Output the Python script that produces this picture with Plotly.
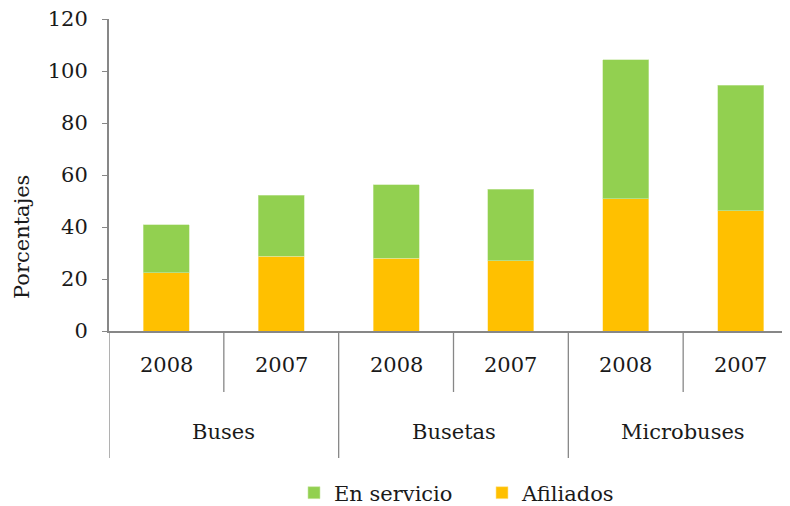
import plotly.graph_objects as go

# data
grupos = ['Buses', 'Busetas', 'Microbuses']
anios = ['2008', '2007', '2008', '2007', '2008', '2007']
afiliados = [22.5, 28.7, 27.9, 27.1, 50.9, 46.2]
en_servicio = [18.4, 23.5, 28.3, 27.5, 53.4, 48.3]

pos = list(range(len(anios)))
fuente = 'DejaVu Serif'
tam = 21
gris = '#878787'
negro = '#1a1a1a'
izq = 101
ancho_plot = 790 - izq
alto_plot = 506 - 11 - 183

def py(px_abajo):
    # pixels below the x axis -> paper fraction
    return -px_abajo / alto_plot

fig = go.Figure()
fig.add_trace(go.Bar(x=pos, y=afiliados, name='Afiliados',
                     marker=dict(color='#FFC000', line=dict(color='#FFE699', width=0.6))))
fig.add_trace(go.Bar(x=pos, y=en_servicio, name='En servicio',
                     marker=dict(color='#92D050', line=dict(color='#C9E8A8', width=0.6))))

# separators below the axis: short between years, long between groups
shapes = []
for k in range(len(anios) + 1):
    largo = py(127) if k % 2 == 0 else py(61)
    shapes.append(dict(type='line', xref='x', yref='paper', x0=k - 0.5, x1=k - 0.5,
                       y0=0, y1=largo, line=dict(color=gris, width=1.3)))

anotaciones = []
for i, a in enumerate(anios):
    anotaciones.append(dict(x=i, y=py(34), xref='x', yref='paper', text=a, showarrow=False,
                            yanchor='middle', font=dict(family=fuente, size=tam, color=negro)))
for g, nombre in enumerate(grupos):
    anotaciones.append(dict(x=2 * g + 0.5, y=py(101), xref='x', yref='paper', text=nombre,
                            yanchor='middle', showarrow=False,
                            font=dict(family=fuente, size=tam, color=negro)))
# y axis title (sits lower than the plot middle, like in the original)
anotaciones.append(dict(x=(14 - izq) / ancho_plot, y=94 / alto_plot, xref='paper', yref='paper',
                        text='Porcentajes', showarrow=False, textangle=-90,
                        xanchor='center', yanchor='middle',
                        font=dict(family=fuente, size=tam, color=negro)))

fig.update_layout(
    barmode='stack', bargap=0.6,
    width=790, height=506,
    margin=dict(l=izq, r=0, t=11, b=183, autoexpand=False),
    plot_bgcolor='white', paper_bgcolor='white',
    font=dict(family=fuente, size=tam, color=negro),
    shapes=shapes, annotations=anotaciones,
    showlegend=True,
    legend=dict(orientation='h', x=0.2685, xanchor='left', y=py(162), yanchor='middle',
                traceorder='reversed', itemwidth=30, entrywidth=143,
                font=dict(family=fuente, size=tam, color=negro)),
)
fig.update_xaxes(range=[-0.5, 5.5], showticklabels=False, showgrid=False, zeroline=False,
                 showline=True, linecolor=gris, linewidth=2, ticks='')
fig.update_yaxes(range=[0, 120], dtick=20, showgrid=False, zeroline=False,
                 showline=True, linecolor=gris, linewidth=2,
                 ticks='outside', ticklen=5, tickcolor=gris, tickwidth=1.3,
                 ticklabelstandoff=10, ticklabeloverflow='allow', automargin=False)

fig.write_html('out.html')
